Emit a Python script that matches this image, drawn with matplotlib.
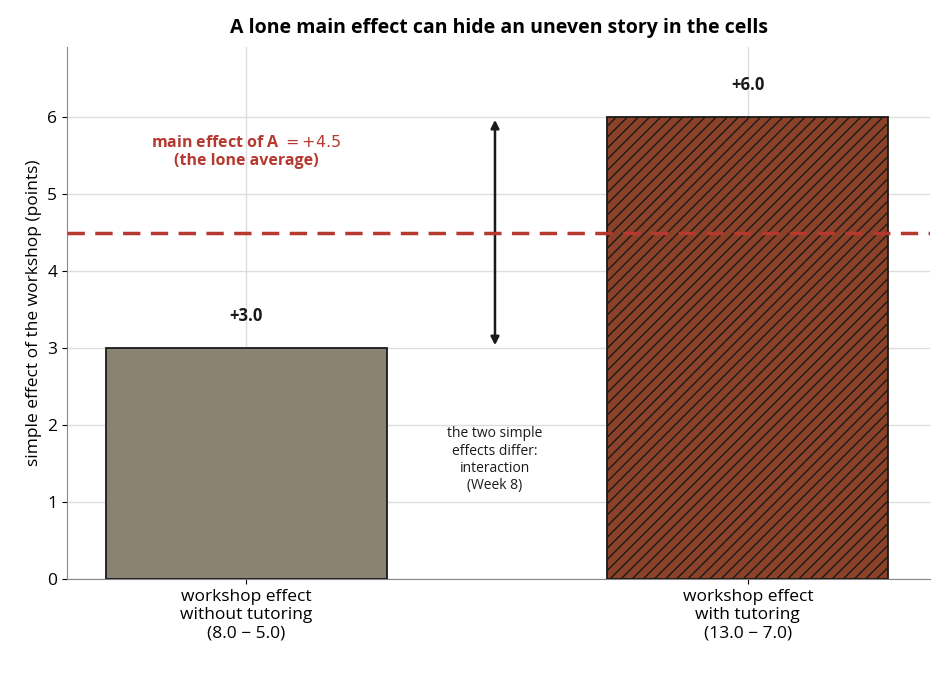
import matplotlib
matplotlib.use("Agg")
import matplotlib.pyplot as plt

categories = ["workshop effect\nwithout tutoring\n(8.0 − 5.0)", "workshop effect\nwith tutoring\n(13.0 − 7.0)"]
values = [3.0, 6.0]
labels = ["+3.0", "+6.0"]
main_effect = 4.5

plt.rcParams['font.family'] = ['Open Sans', 'DejaVu Sans']
fig = plt.figure(figsize=(9.46, 6.76), dpi=100)
ax = fig.add_axes([67/946, 1-579/676, 863/946, 532/676])
x = [0, 1]
ax.bar(x[0], values[0], width=0.56, color="#8a8272", edgecolor="#1a1a1a", linewidth=1.3, zorder=3)
ax.bar(x[1], values[1], width=0.56, color="#8b4228", edgecolor="#1a1a1a", linewidth=1.3, hatch="///", zorder=3)
for xi, v, l in zip(x, values, labels):
    ax.text(xi, v + 0.3, l, ha="center", va="bottom", fontsize=12, fontweight="bold", color="#1a1a1a")
ax.axhline(main_effect, color="#b5392f", linestyle="--", linewidth=2.5, dashes=(5, 3), zorder=4)
ax.text(0, 5.55, "main effect of A $= +4.5$\n(the lone average)", ha="center", va="center",
        fontsize=11.5, fontweight="bold", color="#b5392f")
ax.annotate("", xy=(0.496, 6.0), xytext=(0.496, 3.0),
            arrowprops=dict(arrowstyle="<|-|>", color="#1a1a1a", lw=1.8, mutation_scale=12))
ax.text(0.496, 1.55, "the two simple\neffects differ:\ninteraction\n(Week 8)", ha="center", va="center",
        fontsize=10, color="#1a1a1a")
ax.set_xlim(-0.357, 1.363)
ax.set_ylim(0, 6.91)
ax.set_yticks(range(7))
ax.set_xticks(x)
ax.set_xticklabels(categories, fontsize=12.5)
ax.tick_params(axis="y", labelsize=12.5)
ax.set_ylabel("simple effect of the workshop (points)", fontsize=12.5)
ax.grid(True, color="#dddddd", linewidth=1, zorder=0)
ax.set_axisbelow(True)
for s in ["top", "right"]:
    ax.spines[s].set_visible(False)
for s in ["left", "bottom"]:
    ax.spines[s].set_color("#888888")
ax.set_title("A lone main effect can hide an uneven story in the cells", fontsize=14, fontweight="bold", pad=10)
fig.savefig("out.png", dpi=100)
